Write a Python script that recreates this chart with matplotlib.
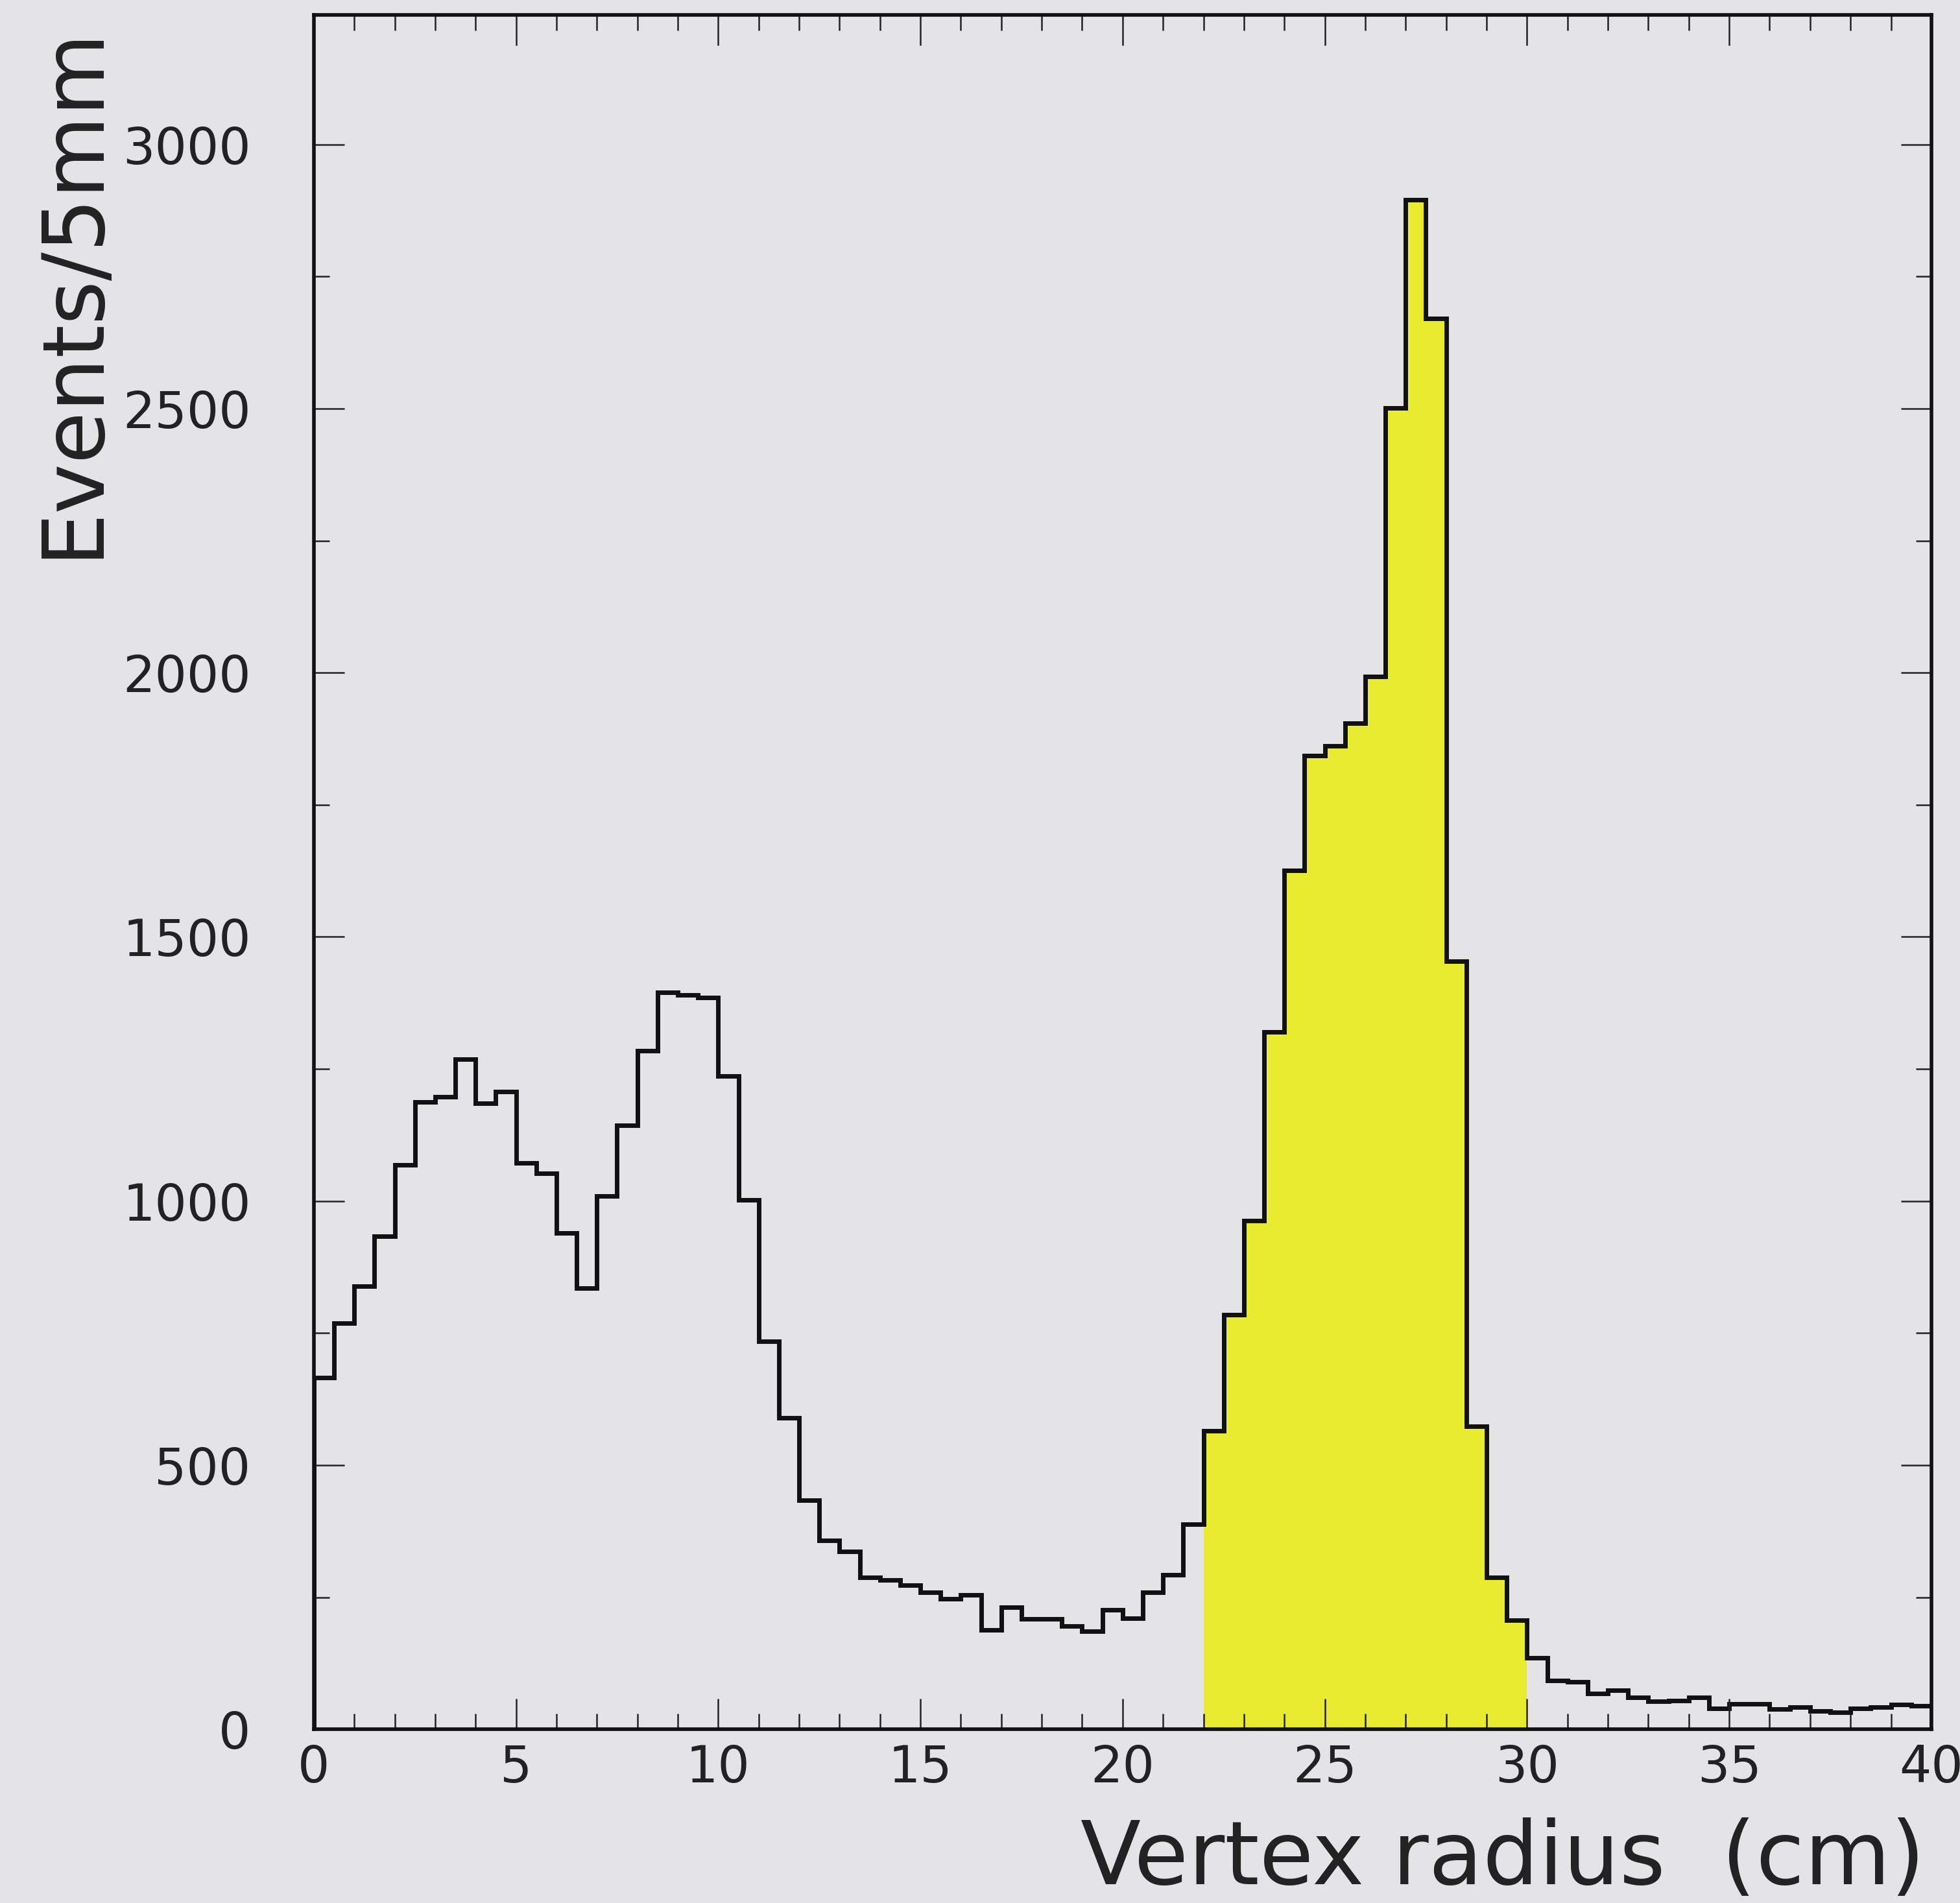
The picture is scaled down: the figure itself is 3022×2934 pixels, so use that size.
import numpy as np
import matplotlib
matplotlib.use("Agg")
import matplotlib.pyplot as plt
from matplotlib.ticker import MultipleLocator

# --- datos del histograma (80 bins de 5 mm, 0-40 cm) ---
bin_edges = np.arange(0, 40.5, 0.5)
counts = [
    666, 769, 839, 933, 1068, 1187, 1197, 1268, 1185, 1207,
    1072, 1052, 939, 835, 1009, 1143, 1284, 1395, 1390, 1385,
    1237, 1002, 734, 590, 433, 358, 337, 287, 283, 273,
    259, 247, 254, 188, 231, 209, 209, 195, 186, 226,
    210, 259, 292, 388, 565, 785, 963, 1320, 1626, 1843,
    1862, 1904, 1993, 2501, 2895, 2671, 1454, 574, 288, 207,
    135, 92, 90, 68, 74, 60, 53, 54, 60, 40,
    48, 48, 38, 42, 35, 32, 40, 42, 47, 44,
]
sel_lo, sel_hi = 22.0, 30.0  # zona seleccionada (amarilla)

x_label = "Vertex radius  (cm)"
y_label = "Events/5mm"

# --- estilo ---
bg = "#e4e4e6"
amarillo = "#e8eb2f"

fig = plt.figure(figsize=(30.22, 29.34), dpi=100, facecolor=bg)
ax = fig.add_axes([0.1601, 0.0913, 0.8253, 0.9008])
ax.set_facecolor(bg)

counts = np.array(counts)
i0 = int(np.searchsorted(bin_edges, sel_lo))
i1 = int(np.searchsorted(bin_edges, sel_hi))
ax.stairs(counts[i0:i1], bin_edges[i0:i1 + 1], fill=True, color=amarillo, lw=0)
ax.stairs(counts, bin_edges, color="#111111", lw=5)

ax.set_xlim(0, 40)
ax.set_ylim(0, 3245)

ax.xaxis.set_major_locator(MultipleLocator(5))
ax.xaxis.set_minor_locator(MultipleLocator(1))
ax.yaxis.set_major_locator(MultipleLocator(500))
ax.yaxis.set_minor_locator(MultipleLocator(250))
ax.tick_params(which="both", direction="in", top=True, right=True,
               width=1.8, color="#222222")
ax.tick_params(which="major", length=34)
ax.tick_params(which="minor", length=17)
ax.tick_params(axis="y", which="major", labelsize=56, pad=70, labelcolor="#222222")
ax.tick_params(axis="x", which="major", labelsize=56, pad=16, labelcolor="#222222")

for s in ax.spines.values():
    s.set_linewidth(4)
    s.set_color("#111111")

fig.text(0.037, 0.987, y_label, rotation=90, ha="center", va="top",
         fontsize=94, color="#222222")
fig.text(0.982, 0.010, x_label, ha="right", va="baseline",
         fontsize=98, color="#222222")

fig.savefig("out.png", dpi=100, facecolor=bg)
